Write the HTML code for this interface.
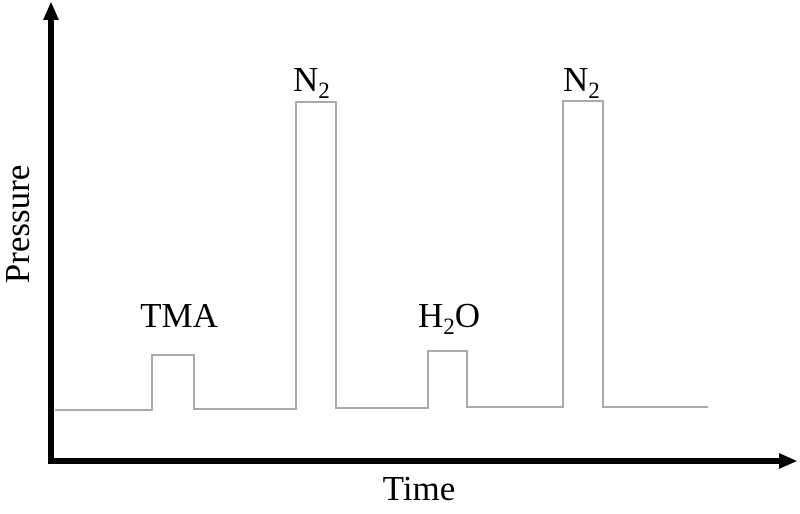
<!DOCTYPE html>
<html><head><meta charset="utf-8"><style>
html,body{margin:0;padding:0;background:#fff;width:800px;height:514px;overflow:hidden}
text{font-family:"Liberation Serif",serif;fill:#000}
</style></head><body>
<svg width="800" height="514" viewBox="0 0 800 514" xmlns="http://www.w3.org/2000/svg">
<polyline fill="none" stroke="#aaa" stroke-width="2" points="55,410 152,410 152,355 194,355 194,409 296,409 296,102 336,102 336,408 428,408 428,351 467,351 467,407 563,407 563,101 603,101 603,407 708,407"/>
<line x1="51" y1="18" x2="51" y2="464" stroke="#000" stroke-width="6"/>
<polygon points="51,2 43,20 59,20" fill="#000"/>
<line x1="48" y1="461" x2="782" y2="461" stroke="#000" stroke-width="6"/>
<polygon points="797,461 779,453 779,469" fill="#000"/>
<text x="179" y="327" font-size="35" text-anchor="middle">TMA</text>
<text x="293" y="91" font-size="35">N<tspan font-size="23" dy="7">2</tspan></text>
<text x="563" y="91" font-size="35">N<tspan font-size="23" dy="7">2</tspan></text>
<text x="418" y="327" font-size="35">H<tspan font-size="23" dy="7">2</tspan><tspan dy="-7">O</tspan></text>
<text x="419" y="500" font-size="35" text-anchor="middle">Time</text>
<text transform="translate(29,224) rotate(-90)" font-size="35" text-anchor="middle">Pressure</text>
</svg>
</body></html>
